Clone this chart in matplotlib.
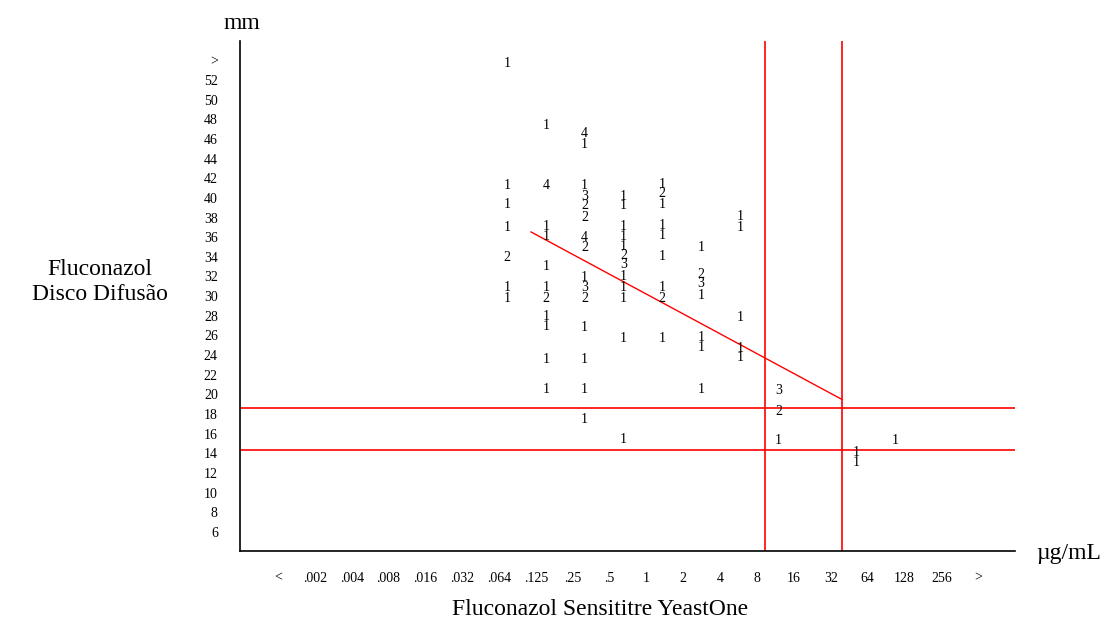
import numpy as np
import matplotlib
matplotlib.use("Agg")
import matplotlib.pyplot as plt

plt.rcParams['font.family'] = ['Liberation Serif', 'DejaVu Serif']

# categorias de CIM (eixo x) e de diâmetro (eixo y)
mic_labels = ["<", ".002", ".004", ".008", ".016", ".032", ".064", ".125", ".25", ".5",
              "1", "2", "4", "8", "16", "32", "64", "128", "256", ">"]
mm_ticks = [6, 8, 10, 12, 14, 16, 18, 20, 22, 24, 26, 28, 30, 32, 34, 36, 38, 40,
            42, 44, 46, 48, 50, 52, 54]
mm_labels = [str(v) for v in mm_ticks[:-1]] + [">"]

# contagens: CIM, halo (mm), número de isolados
mic = [".064", ".064", ".064", ".064", ".064", ".064", ".064",
       ".125", ".125", ".125", ".125", ".125", ".125", ".125", ".125", ".125", ".125", ".125",
       ".25", ".25", ".25", ".25", ".25", ".25", ".25", ".25", ".25", ".25", ".25", ".25",
       ".25", ".25", ".25",
       ".5", ".5", ".5", ".5", ".5", ".5", ".5", ".5", ".5", ".5", ".5", ".5",
       "1", "1", "1", "1", "1", "1", "1", "1", "1",
       "2", "2", "2", "2", "2", "2", "2",
       "4", "4", "4", "4", "4",
       "8", "8", "8",
       "32", "32",
       "64"]
zone = [53.7, 41.3, 39.3, 37.0, 33.9, 30.9, 29.8,
        47.4, 41.3, 37.1, 36.1, 33.0, 30.9, 29.8, 27.9, 26.9, 23.6, 20.5,
        46.6, 45.4, 41.3, 40.1, 39.2, 38.0, 36.0, 35.0, 31.9, 30.9, 29.8, 26.8, 23.6,
        20.5, 17.4,
        40.1, 39.2, 37.1, 36.1, 35.1, 34.1, 33.2, 32.0, 30.9, 29.8, 25.7, 15.4,
        41.4, 40.4, 39.3, 37.2, 36.2, 34.0, 30.9, 29.8, 25.7,
        35.0, 32.2, 31.3, 30.1, 25.8, 24.8, 20.5,
        38.1, 37.0, 27.8, 24.7, 23.8,
        20.4, 18.3, 15.3,
        14.1, 13.1,
        15.3]
count = [1, 1, 1, 1, 2, 1, 1,
         1, 4, 1, 1, 1, 1, 2, 1, 1, 1, 1,
         4, 1, 1, 3, 2, 2, 4, 2, 1, 3, 2, 1, 1, 1, 1,
         1, 1, 1, 1, 1, 2, 3, 1, 1, 1, 1, 1,
         1, 2, 1, 1, 1, 1, 1, 2, 1,
         1, 2, 3, 1, 1, 1, 1,
         1, 1, 1, 1, 1,
         3, 2, 1,
         1, 1,
         1]

# pontos de corte e reta de regressão
mic_cuts = [2.65, 4.63]
zone_cuts = [18.6, 14.3]
reg_slope = -2.128
reg_intercept = 29.34
reg_range = [-3.38, 4.63]

fig = plt.figure(figsize=(11.06, 6.23), dpi=100)
ax = fig.add_axes([0.217, 0.1156, 0.7007, 0.8186])

# posição x: log2 da CIM (1 -> 0)
xpos = [mic_labels.index(m) - 10 for m in mic]
for x, y, n in zip(xpos, zone, count):
    ax.text(x, y, str(n), ha='center', va='center', fontsize=10, color='black')

for c in mic_cuts:
    ax.axvline(c, color='red', lw=1.2)
for c in zone_cuts:
    ax.axhline(c, color='red', lw=1.2)

xr = np.array(reg_range)
ax.plot(xr, reg_intercept + reg_slope * xr, color='red', lw=1.0)

ax.set_xlim(-10.88, 9.09)
ax.set_ylim(4.06, 55.97)
ax.set_xticks(np.linspace(-9.90, 8.14, len(mic_labels)))
ax.set_xticklabels(mic_labels)
ax.set_yticks(mm_ticks)
ax.set_yticklabels(mm_labels)
ax.tick_params(length=0, labelsize=10, pad=16)
ax.tick_params(axis='x', pad=15)
for s in ['top', 'right']:
    ax.spines[s].set_visible(False)
for s in ['left', 'bottom']:
    ax.spines[s].set_linewidth(1.2)

fig.text(0.219, 0.962, "mm", ha='center', va='center', fontsize=17)
fig.text(0.9665, 0.112, "µg/mL", ha='center', va='center', fontsize=17)
fig.text(0.09, 0.547, "Fluconazol\nDisco Difusão", ha='center', va='center',
         fontsize=17, multialignment='center', linespacing=1.25)
fig.text(0.543, 0.021, "Fluconazol Sensititre YeastOne", ha='center', va='center',
         fontsize=17)

fig.savefig("out.png", dpi=100)
